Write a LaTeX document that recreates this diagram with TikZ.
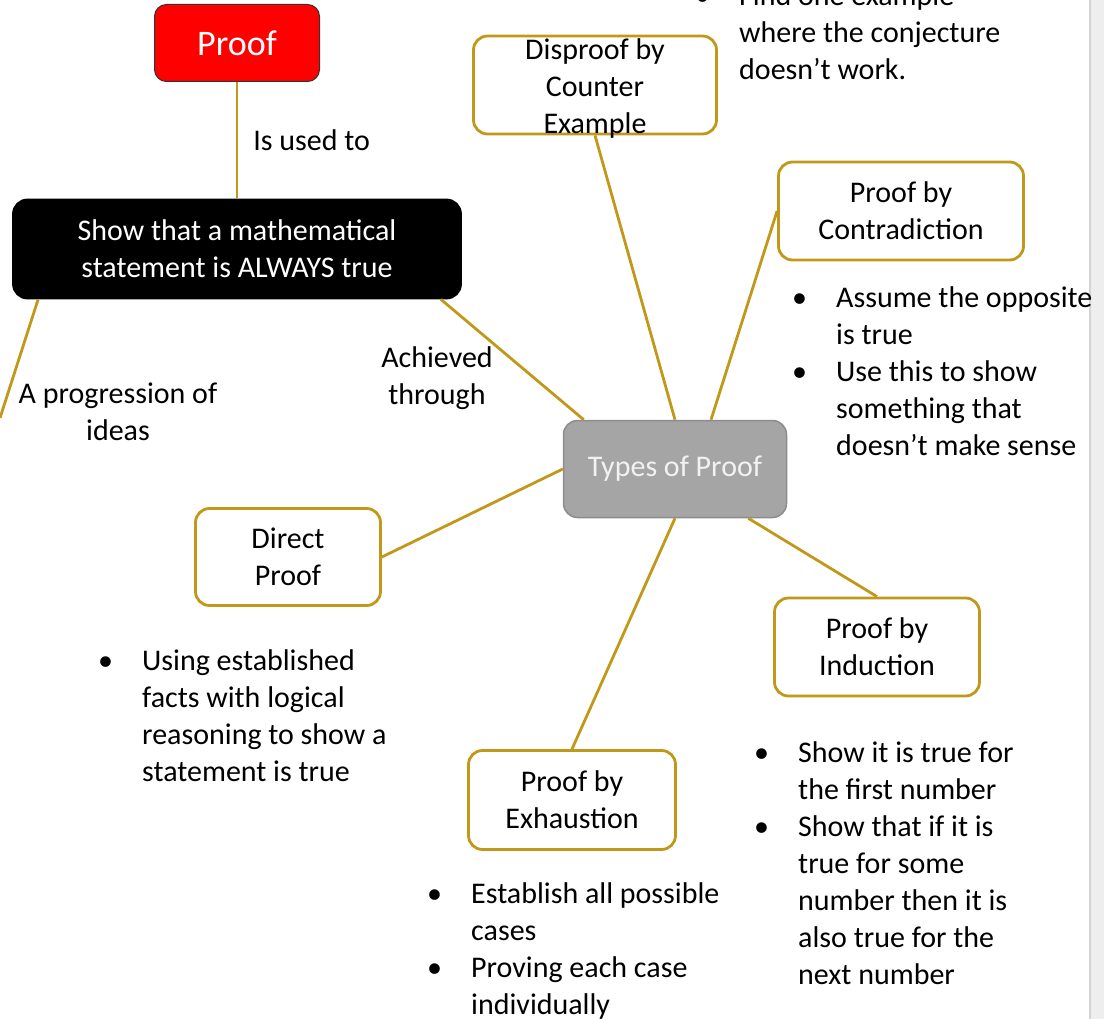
\documentclass[tikz,border=0pt]{standalone}
\usepackage{fontspec}
\setmainfont{Carlito}
\usepackage{xcolor}
\usepackage{tikz}
\usetikzlibrary{positioning}

\definecolor{linkgold}{RGB}{194,152,26}
\definecolor{typefill}{RGB}{165,165,165}
\definecolor{typeedge}{RGB}{140,140,140}
\definecolor{typetext}{RGB}{242,242,242}
\definecolor{stripgray}{RGB}{238,238,238}
\definecolor{stripline}{RGB}{212,212,212}

\begin{document}
\begin{tikzpicture}[
  x=1pt, y=-1pt,
  box/.style={
    draw=linkgold,
    line width=2.8pt,
    rounded corners=14pt,
    fill=white,
    align=center,
    minimum height=98pt,
    inner sep=0pt,
    font=\fontsize{30}{37}\selectfont
  },
  link/.style={linkgold, line width=2.8pt},
  lab/.style={align=center, inner sep=0pt, text=black, font=\fontsize{30}{37}\selectfont},
  notes/.style={anchor=base west, inner sep=0pt, font=\fontsize{30}{37}\selectfont}
]
  \useasboundingbox (0,0) rectangle (1104,1019);
  \clip (0,0) rectangle (1104,1019);
  \fill[stripgray] (1090,0) rectangle (1104,1019);
  \draw[stripline, line width=1.5pt] (1090,0) -- (1090,1019);

  \node[draw=black!80, line width=1pt, fill=red, rounded corners=12pt,
        minimum width=165pt, minimum height=77pt, text=white,
        font=\fontsize{36}{44}\selectfont] (proof) at (237,43) {Proof};
  \node[box, draw=black, fill=black, text=white, minimum width=447pt] (show) at (237,249)
    {Show that a mathematical\\statement is ALWAYS true};
  \node[box, draw=typeedge, line width=1.5pt, fill=typefill, text=typetext,
        minimum width=223pt, minimum height=97pt] (types) at (675,469) {Types of Proof};

  \node[box, minimum width=243pt] (disproof) at (595,85) {};
  \node[lab] (disprooftext) at (595,89) {Disproof by\\Counter\\Example};
  \node[box, minimum width=245pt] (contradiction) at (901,211) {Proof by\\Contradiction};
  \node[box, minimum width=185pt, minimum height=97pt] (direct) at (288,557) {Direct\\Proof};
  \node[box, minimum width=205pt] (induction) at (877,647) {Proof by\\Induction};
  \node[box, minimum width=207pt, minimum height=99pt] (exhaustion) at (572,800) {Proof by\\Exhaustion};

  \coordinate (offleft) at (0,418);

  \draw[link] (proof) -- node[lab, right=15pt] (usedto) {Is used to} (show);
  \draw[link] ([xshift=26pt]show.south west) -- (offleft);
  \draw[link] ([xshift=-21pt]show.south east) -- ([xshift=21pt]types.north west);
  \draw[link] (disproof.south) -- (types.north);
  \draw[link] (contradiction.west) -- ([xshift=36pt]types.north);
  \draw[link] (types.west) -- (direct.east);
  \draw[link] (types.south) -- (exhaustion.north);
  \draw[link] ([xshift=-39pt]types.south east) -- (induction.north);

  \node[lab] (progression) at (118,412) {A progression of\\ideas};
  \node[lab] (achieved) at (437,378) {Achieved\\through};

  \node[notes] (disproofnotes) at (695,6) {\begin{tabular}[t]{@{}p{44pt}@{}l@{}}
    \textbullet & Find one example\\
    & where the conjecture\\
    & doesn’t work.
  \end{tabular}};
  \node[notes] (contradictionnotes) at (792,308) {\begin{tabular}[t]{@{}p{44pt}@{}l@{}}
    \textbullet & Assume the opposite\\
    & is true\\
    \textbullet & Use this to show\\
    & something that\\
    & doesn’t make sense
  \end{tabular}};
  \node[notes] (directnotes) at (98,670) {\begin{tabular}[t]{@{}p{44pt}@{}l@{}}
    \textbullet & Using established\\
    & facts with logical\\
    & reasoning to show a\\
    & statement is true
  \end{tabular}};
  \node[notes] (inductionnotes) at (754,762) {\begin{tabular}[t]{@{}p{44pt}@{}l@{}}
    \textbullet & Show it is true for\\
    & the first number\\
    \textbullet & Show that if it is\\
    & true for some\\
    & number then it is\\
    & also true for the\\
    & next number
  \end{tabular}};
  \node[notes] (exhaustionnotes) at (427,903) {\begin{tabular}[t]{@{}p{44pt}@{}l@{}}
    \textbullet & Establish all possible\\
    & cases\\
    \textbullet & Proving each case\\
    & individually
  \end{tabular}};
\end{tikzpicture}
\end{document}
